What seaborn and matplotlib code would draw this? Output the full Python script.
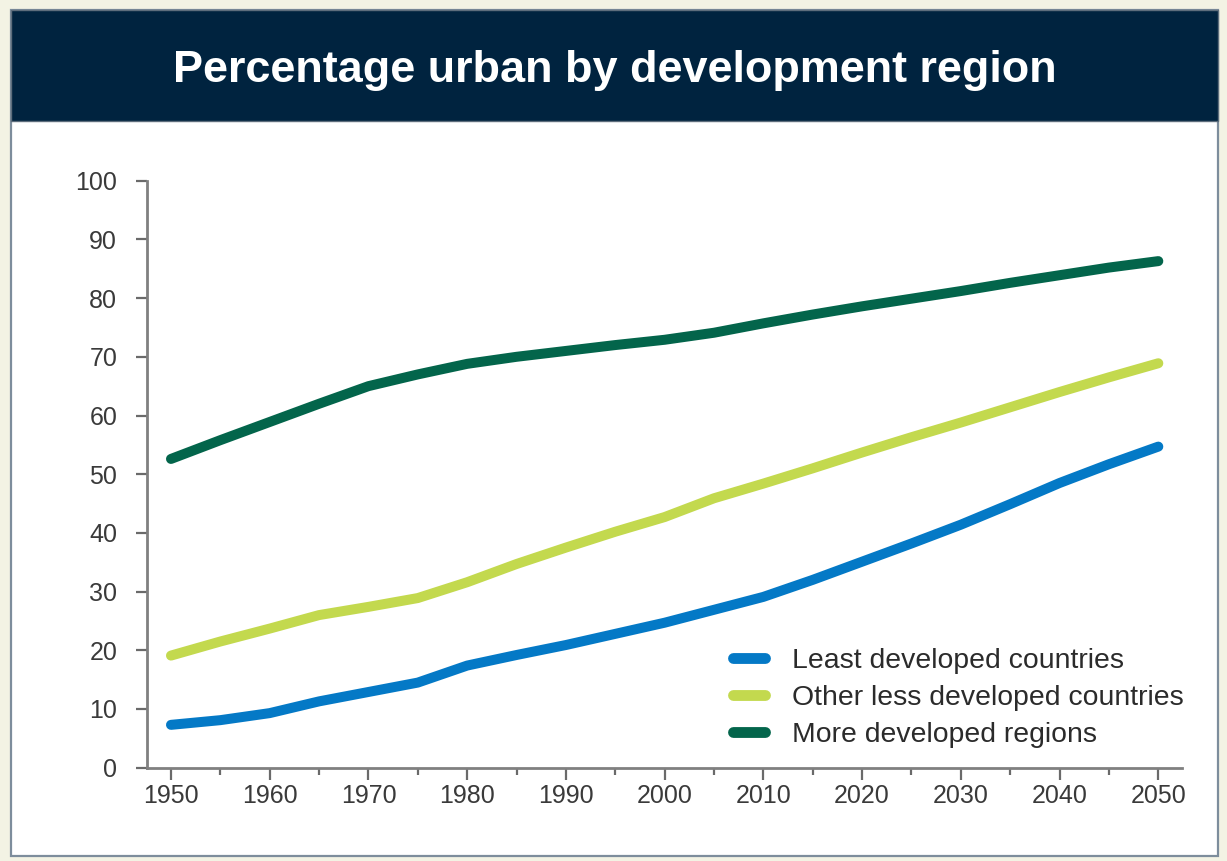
import matplotlib
matplotlib.use("Agg")
import matplotlib.pyplot as plt
from matplotlib.patches import Rectangle
from matplotlib.lines import Line2D
from matplotlib.ticker import MultipleLocator
import pandas as pd
import seaborn as sns

# Urban share of population (%), five-year steps 1950-2050
years = list(range(1950, 2051, 5))
least_developed = [7.3, 8.1, 9.3, 11.3, 12.9, 14.5, 17.4, 19.2, 20.9, 22.8, 24.7,
                   26.9, 29.1, 32.0, 35.1, 38.2, 41.4, 44.9, 48.5, 51.7, 54.7]
other_less_developed = [19.1, 21.5, 23.7, 26.0, 27.4, 28.9, 31.6, 34.7, 37.5, 40.2, 42.7,
                        45.9, 48.4, 51.0, 53.7, 56.3, 58.8, 61.4, 64.0, 66.5, 68.9]
more_developed = [52.6, 55.8, 58.9, 62.0, 65.0, 67.0, 68.8, 70.0, 71.0, 72.0, 72.9,
                  74.1, 75.7, 77.2, 78.6, 79.9, 81.2, 82.6, 83.9, 85.2, 86.3]

series_names = ["Least developed countries",
                "Other less developed countries",
                "More developed regions"]
series_colors = ["#0479c6", "#c3d94e", "#03654b"]
title = "Percentage urban by development region"

df = pd.concat([
    pd.DataFrame({"year": years, "urban": vals, "region": name})
    for name, vals in zip(series_names, [least_developed, other_less_developed, more_developed])
])

sns.set_style("ticks")
plt.rcParams["font.family"] = ["Liberation Sans", "DejaVu Sans"]

W, H = 1227, 861
fig = plt.figure(figsize=(W / 100, H / 100), dpi=100)
fig.patch.set_facecolor("#f3f3e4")

# white panel with a thin slate frame, and the navy title band
fig.add_artist(Rectangle((11 / W, 1 - 856 / H), 1207 / W, 846 / H, transform=fig.transFigure,
                         facecolor="white", edgecolor="#7d8d9c", linewidth=1.6, zorder=-3))
fig.add_artist(Rectangle((11 / W, 1 - 121 / H), 1207 / W, 111 / H, transform=fig.transFigure,
                         facecolor="#00233f", edgecolor="#5d6d7c", linewidth=1.0, zorder=-2))
fig.text(614.5 / W, 1 - 82 / H, title, ha="center", va="baseline", color="white",
         fontsize=32.4, fontweight="bold")

ax = fig.add_axes([147 / W, 1 - 767.7 / H, (1182 - 147) / W, (767.7 - 180.7) / H])
ax.patch.set_visible(False)

palette = dict(zip(series_names, series_colors))
sns.lineplot(data=df, x="year", y="urban", hue="region", hue_order=series_names,
             palette=palette, linewidth=7.2, solid_capstyle="round",
             solid_joinstyle="round", legend=False, ax=ax, clip_on=False)

ax.set_xlim(1947.57, 2052.4)
ax.set_ylim(0, 100)
ax.xaxis.set_major_locator(MultipleLocator(10))
ax.xaxis.set_minor_locator(MultipleLocator(5))
ax.yaxis.set_major_locator(MultipleLocator(10))
ax.set_xlabel("")
ax.set_ylabel("")

sns.despine(ax=ax)
for side in ("left", "bottom"):
    ax.spines[side].set_color("#808080")
    ax.spines[side].set_linewidth(2.0)

ax.tick_params(axis="y", which="major", length=8, width=1.6, color="#6a6a6a",
               pad=13.5, labelsize=18, labelcolor="#3a3a3a", direction="out")
ax.tick_params(axis="x", which="major", length=8.6, width=1.6, color="#6a6a6a",
               pad=3.0, labelsize=18, labelcolor="#3a3a3a", direction="out")
ax.tick_params(axis="x", which="minor", length=5, width=1.6, color="#6a6a6a",
               direction="out")

handles = [Line2D([0], [0], color=c, linewidth=7.8, solid_capstyle="round") for c in series_colors]
leg = ax.legend(handles, series_names, loc="center left",
                bbox_to_anchor=(733 / W, 1 - 698 / H), bbox_transform=fig.transFigure,
                frameon=False, fontsize=20.4, handlelength=1.13, handletextpad=0.95,
                labelspacing=0.38, borderpad=0, borderaxespad=0)
for t in leg.get_texts():
    t.set_color("#2b2b2b")

fig.savefig("out.png", dpi=100, facecolor=fig.get_facecolor())
